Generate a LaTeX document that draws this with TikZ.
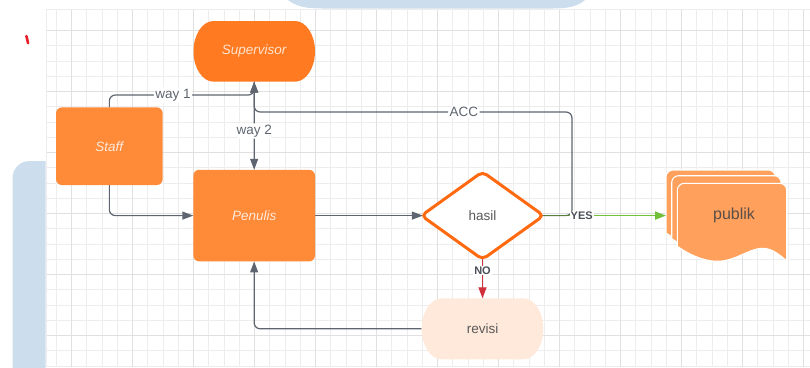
\documentclass[tikz,border=0pt]{standalone}
\usepackage{fontspec}
\setmainfont{Liberation Sans}
\usetikzlibrary{shapes.geometric, arrows.meta, calc}

\definecolor{suporange}{HTML}{FF7A21}
\definecolor{boxorange}{HTML}{FF8A38}
\definecolor{docorange}{HTML}{FFA15C}
\definecolor{revfill}{HTML}{FFE9DB}
\definecolor{hasilorange}{HTML}{FF6A10}
\definecolor{suptext}{HTML}{FFE3CF}
\definecolor{boxtext}{HTML}{FFEADB}
\definecolor{darktext}{HTML}{595959}
\definecolor{pubtext}{HTML}{5A4E48}
\definecolor{linegray}{HTML}{5E6570}
\definecolor{yngray}{HTML}{4A4F58}
\definecolor{okgreen}{HTML}{72BF3A}
\definecolor{okdark}{HTML}{557F3C}
\definecolor{nored}{HTML}{D0313D}
\definecolor{paleblue}{HTML}{CCDDED}
\definecolor{gridminor}{HTML}{EDEDED}
\definecolor{gridmajor}{HTML}{E0E0E0}
\definecolor{markred}{HTML}{E8202A}

\pgfdeclarelayer{under}
\pgfsetlayers{under,main}

\begin{document}
\begin{tikzpicture}[x=1pt, y=-1pt,
  txt/.style={font=\fontsize{13.5}{16}\selectfont},
  textonly/.style={txt, rectangle, draw=none, inner sep=0pt, outer sep=0pt},
  box/.style={txt, rectangle, rounded corners=6pt, fill=boxorange, text=boxtext,
    font=\fontsize{13.5}{16}\selectfont\itshape, inner sep=0pt, outer sep=0pt},
  decision/.style={txt, diamond, draw=hasilorange, line width=3pt, fill=white,
    rounded corners=5pt, minimum width=122.2pt, minimum height=87.6pt,
    inner sep=0pt, outer sep=0pt, text=darktext},
  docsheet/.style={fill=docorange, draw=white, line width=1.1pt},
  tip/.tip={Triangle[length=11pt, width=8pt]},
  plain/.style={draw=linegray, line width=1.2pt, rounded corners=6pt},
  conn/.style={plain, -tip},
  lbl/.style={txt, fill=white, inner sep=1.5pt, text=linegray},
  yn/.style={fill=white, inner sep=1pt, text=yngray,
    font=\fontsize{11}{13}\selectfont\bfseries},
  gridline/.style={draw=gridminor, line width=0.8pt},
  gridbold/.style={draw=gridmajor, line width=0.9pt}]

\useasboundingbox (0,0) rectangle (810,367);

% ---------- shapes ----------
% Supervisor terminator
\fill[suporange] (213.5,21) -- (295,21)
  arc[start angle=-90, end angle=90, x radius=20, y radius=30.35]
  -- (213.5,81.7)
  arc[start angle=90, end angle=270, x radius=20, y radius=30.35] -- cycle;
\node[textonly, text=suptext, font=\fontsize{13.5}{16}\selectfont\itshape,
  minimum width=121.5pt, minimum height=60.7pt] (sup) at (254.2,51.35) {Supervisor};

\node[box, minimum width=106.7pt, minimum height=77.7pt] (staff) at (109.35,146.2) {Staff};
\node[box, minimum width=121.7pt, minimum height=91.7pt] (pen) at (254.15,215.6) {Penulis};

\node[decision] (hasil) at (482.5,215.6) {hasil};

% revisi terminator
\fill[revfill] (441.7,298.3) -- (523.3,298.3)
  arc[start angle=-90, end angle=90, x radius=20, y radius=30.5]
  -- (441.7,359.3)
  arc[start angle=90, end angle=270, x radius=20, y radius=30.5] -- cycle;
\node[textonly, text=darktext, minimum width=121.6pt, minimum height=61pt]
  (rev) at (482.5,328.8) {revisi};

% publik: stack of three document sheets
\foreach \dx/\dy in {666/170, 671.7/175.7, 677.3/183.3} {
  \begin{scope}[shift={(\dx,\dy)}]
    \filldraw[docsheet] (0,63) -- (0,7)
      arc[start angle=180, end angle=270, radius=7] -- (102.4,0)
      arc[start angle=270, end angle=360, radius=7] -- (109.4,77.7)
      .. controls (103,72) and (95,65) .. (85,65)
      .. controls (72,65) and (58,78) .. (40,78)
      .. controls (25,78) and (10,70) .. (0,63) -- cycle;
  \end{scope}
}
\node[textonly, minimum width=120.7pt, minimum height=92pt] (pub) at (726.35,215.6) {};
\node[textonly, text=pubtext, font=\fontsize{16}{19}\selectfont] (publabel) at (734,215) {publik};

% YES branch: shared stretch with ACC, then green on to publik
\coordinate (accfoot) at (569,215.6);
\draw[draw=okdark, line width=1.6pt] (hasil.east) -- (accfoot);
\draw[draw=okgreen, line width=1.6pt, -tip] (accfoot) -- (pub.west);
\node[yn] (yes) at (581.7,215.6) {YES};

% ---------- background, grid and connectors ----------
\begin{pgfonlayer}{under}
  % grid
  \foreach \i in {0,...,49} \draw[gridline] ({56.25+15.25*\i},9.3) -- ({56.25+15.25*\i},367);
  \foreach \j in {0,...,22} \draw[gridline] (46,{30.5+15.25*\j}) -- (810,{30.5+15.25*\j});
  \foreach \i in {0,...,12} \draw[gridbold] ({71.5+61*\i},9.3) -- ({71.5+61*\i},367);
  \foreach \j in {0,...,5} \draw[gridbold] (46,{30.5+61*\j}) -- (810,{30.5+61*\j});
  \draw[gridline] (46,367) -- (46,9.3) -- (810,9.3);

  % pale blue panels at the edges
  \fill[paleblue] (288,0) .. controls (296,6.5) and (306,8.5) .. (322,8.5)
    -- (553,8.5) .. controls (569,8.5) and (578,6) .. (585,0) -- cycle;
  \fill[paleblue] (45.5,370) -- (12.5,370) -- (12.5,178)
    arc[start angle=180, end angle=270, radius=17] -- (45.5,161) -- cycle;

  % small red pen mark
  \draw[markred, line width=2.6pt, line cap=round] (26.4,36) -- (28.1,43.2);

  % connectors
  \coordinate (y95) at (0,95);
  \coordinate (accturn) at (572,112);

  \draw[conn] (staff.north) -- (staff.north |- y95)
    -| node[lbl, pos=0.22] {way 1} (sup.south);

  \draw[plain, tip-tip] (pen.north) -- node[lbl, pos=0.44] {way 2} (sup.south);

  \draw[plain] (hasil.center) -| (accturn)
    -| node[lbl, pos=0.17] {ACC} (sup.south);

  \draw[conn] (staff.south) |- (pen.west);

  \draw[conn, shorten >=-1.5pt] (pen.east) -- (hasil.west);

  \draw[draw=nored, line width=1.3pt, -tip] (hasil.center) -- (rev.north);
  \node[yn] (no) at (482.5,270.5) {NO};

  \draw[conn] (rev.west) -| (pen.south);
\end{pgfonlayer}

\end{tikzpicture}
\end{document}
